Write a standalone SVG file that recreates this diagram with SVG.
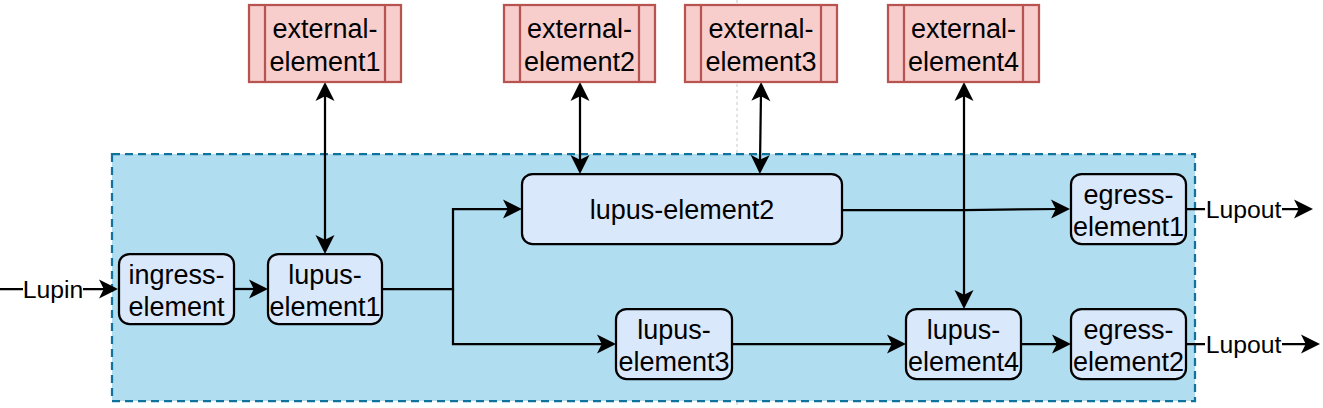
<svg xmlns="http://www.w3.org/2000/svg" width="1323" height="408" viewBox="0 0 1323 408">
<style>
text{font-family:"Liberation Sans",Arial,Helvetica,sans-serif;fill:#000;text-anchor:middle}
.n{font-size:27px}
.l{font-size:24.75px}
.box{fill:#dae8fc;stroke:#000;stroke-width:2.25}
.ext{fill:#f8cecc;stroke:#b85450;stroke-width:2.25}
.e{fill:none;stroke:#000;stroke-width:2.25}
</style>
<defs>
<marker id="arr" markerUnits="userSpaceOnUse" markerWidth="20" markerHeight="20" refX="9" refY="9.5" orient="auto-start-reverse" overflow="visible">
<path d="M0,0 L19,9.5 L0,19 L4.75,9.5 Z" fill="#000"/>
</marker>
</defs>
<line x1="737" y1="0" x2="737" y2="408" stroke="#c8c8c8" stroke-width="1" stroke-dasharray="3 3"/>
<g id="container">
<rect x="112" y="154" width="1083" height="247" fill="#b1ddf0" stroke="#10739e" stroke-width="2.25" stroke-dasharray="8 5"/>
</g>
<g id="connectors">
<path class="e" d="M0,289 H108" marker-end="url(#arr)"/>
<rect x="23" y="276" width="60" height="28" fill="#fff"/>
<text class="l" x="53" y="297.5">Lupin</text>
<path class="e" d="M234,289 H258" marker-end="url(#arr)"/>
<path class="e" d="M382,289 H453 V209 H512" marker-end="url(#arr)"/>
<path class="e" d="M453,289 V344 H606" marker-end="url(#arr)"/>
<path class="e" d="M842,210 H964 L1060,209" marker-end="url(#arr)"/>
<path class="e" d="M732,344 H896" marker-end="url(#arr)"/>
<path class="e" d="M1021,344 H1061" marker-end="url(#arr)"/>
<path class="e" d="M1186,209 H1303" marker-end="url(#arr)"/>
<rect x="1205" y="196" width="77" height="28" fill="#fff"/>
<text class="l" x="1243.5" y="217.5">Lupout</text>
<path class="e" d="M1186,344 H1310" marker-end="url(#arr)"/>
<rect x="1205" y="331" width="77" height="28" fill="#fff"/>
<text class="l" x="1243.5" y="352.5">Lupout</text>
<path class="e" d="M325,92 V244" marker-start="url(#arr)" marker-end="url(#arr)"/>
<path class="e" d="M580,92 V164" marker-start="url(#arr)" marker-end="url(#arr)"/>
<path class="e" d="M761,92 L760,164" marker-start="url(#arr)" marker-end="url(#arr)"/>
<path class="e" d="M964,92 V299" marker-start="url(#arr)" marker-end="url(#arr)"/>
</g>
<g id="external-element1">
<rect class="ext" x="249" y="5" width="152" height="77"/>
<path class="ext" d="M265,5 V82 M385,5 V82"/>
<text class="n" x="325" y="37.5">external-</text>
<text class="n" x="325" y="70.5">element1</text>
</g>
<g id="external-element2">
<rect class="ext" x="504" y="5" width="151" height="77"/>
<path class="ext" d="M520,5 V82 M639,5 V82"/>
<text class="n" x="579.5" y="37.5">external-</text>
<text class="n" x="579.5" y="70.5">element2</text>
</g>
<g id="external-element3">
<rect class="ext" x="685" y="5" width="152" height="77"/>
<path class="ext" d="M701,5 V82 M821,5 V82"/>
<text class="n" x="761" y="37.5">external-</text>
<text class="n" x="761" y="70.5">element3</text>
</g>
<g id="external-element4">
<rect class="ext" x="888" y="5" width="151" height="77"/>
<path class="ext" d="M904,5 V82 M1023,5 V82"/>
<text class="n" x="963.5" y="37.5">external-</text>
<text class="n" x="963.5" y="70.5">element4</text>
</g>
<g id="ingress-element">
<rect class="box" x="119" y="254" width="115" height="70" rx="10.5"/>
<text class="n" x="176.5" y="283.5">ingress-</text>
<text class="n" x="176.5" y="315.5">element</text>
</g>
<g id="lupus-element1">
<rect class="box" x="268" y="254" width="114" height="70" rx="10.5"/>
<text class="n" x="325" y="283.5">lupus-</text>
<text class="n" x="325" y="315.5">element1</text>
</g>
<g id="lupus-element2">
<rect class="box" x="522" y="174" width="320" height="70" rx="10.5"/>
<text class="n" x="682" y="218.5">lupus-element2</text>
</g>
<g id="lupus-element3">
<rect class="box" x="616" y="309" width="116" height="70" rx="10.5"/>
<text class="n" x="674" y="338.5">lupus-</text>
<text class="n" x="674" y="370.5">element3</text>
</g>
<g id="lupus-element4">
<rect class="box" x="906" y="309" width="115" height="70" rx="10.5"/>
<text class="n" x="963.5" y="338.5">lupus-</text>
<text class="n" x="963.5" y="370.5">element4</text>
</g>
<g id="egress-element1">
<rect class="box" x="1071" y="174" width="115" height="70" rx="10.5"/>
<text class="n" x="1128.5" y="203.5">egress-</text>
<text class="n" x="1128.5" y="235.5">element1</text>
</g>
<g id="egress-element2">
<rect class="box" x="1071" y="309" width="115" height="70" rx="10.5"/>
<text class="n" x="1128.5" y="338.5">egress-</text>
<text class="n" x="1128.5" y="370.5">element2</text>
</g>
</svg>
